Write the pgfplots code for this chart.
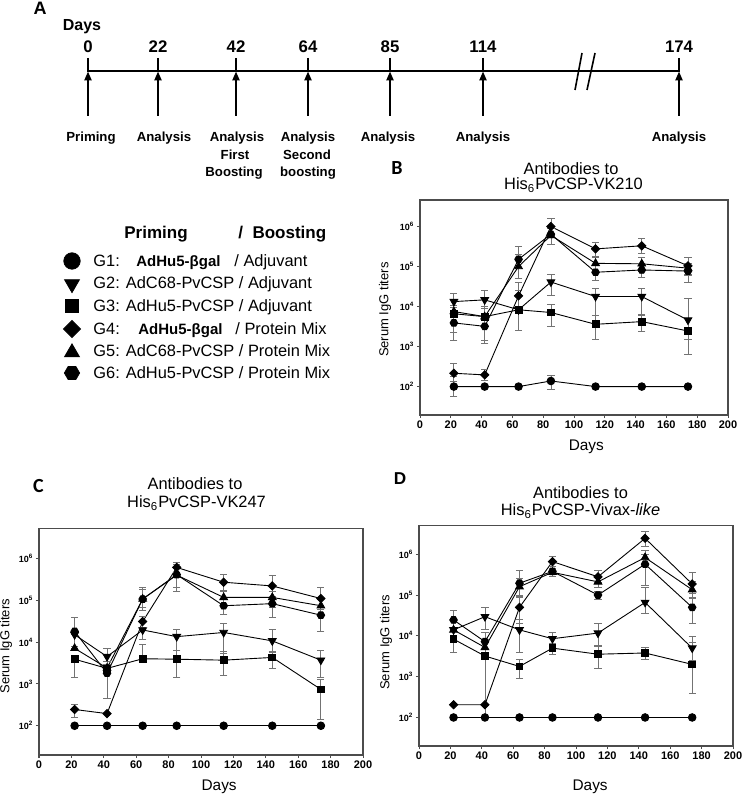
\documentclass[border=0pt]{standalone}
\usepackage{pgfplots}
\pgfplotsset{compat=1.18}
\usepackage{fontspec}
\setmainfont{Liberation Sans}
\newfontfamily\calfont{Carlito}
\usetikzlibrary{arrows.meta}

\pgfdeclareplotmark{hexagon}{%
 \pgfpathmoveto{\pgfpointpolar{0}{\pgfplotmarksize}}%
 \pgfpathlineto{\pgfpointpolar{60}{\pgfplotmarksize}}%
 \pgfpathlineto{\pgfpointpolar{120}{\pgfplotmarksize}}%
 \pgfpathlineto{\pgfpointpolar{180}{\pgfplotmarksize}}%
 \pgfpathlineto{\pgfpointpolar{240}{\pgfplotmarksize}}%
 \pgfpathlineto{\pgfpointpolar{300}{\pgfplotmarksize}}%
 \pgfpathclose
 \pgfusepathqfillstroke}

\pgfkeys{/pgf/number format/assume math mode=true}
\pgfplotsset{
 gOne/.style={mark=*, mark size=1.9pt, mark options={fill=black}},
 gTwo/.style={mark=triangle*, mark size=2.2pt, mark options={fill=black, rotate=180}},
 gThree/.style={mark=square*, mark size=1.7pt, mark options={fill=black}},
 gFour/.style={mark=square*, mark size=1.45pt, mark options={fill=black, rotate=45}},
 gFive/.style={mark=triangle*, mark size=2.2pt, mark options={fill=black}},
 gSix/.style={mark=hexagon, mark size=1.9pt, mark options={fill=black}},
 errs/.style={error bars/.cd, y dir=both, y explicit,
   error bar style={black!55, line width=0.4pt},
   error mark=-,
   error mark options={black!55, line width=0.4pt, mark size=1.8pt, rotate=90}},
 panel/.style={
  scale only axis, anchor=south west, clip=false,
  xmin=0, xmax=200,
  xtick={0,20,...,200}, ytick={100,1000,10000,100000,1000000},
  yticklabels={10\textsuperscript{2},10\textsuperscript{3},10\textsuperscript{4},10\textsuperscript{5},10\textsuperscript{6}},
  xminorticks=false, yminorticks=false,
  tick align=outside, tick pos=left, major tick length=1.6pt,
  every tick/.style={black!70, line width=0.5pt},
  axis line style={black!70, line width=0.6pt},
  xticklabel style={font=\bfseries\fontsize{5.5}{6}\selectfont, inner sep=1pt},
  yticklabel style={font=\bfseries\fontsize{4.5}{5}\selectfont, inner sep=1pt},
  xlabel={Days}, ylabel={Serum IgG titers},
  xlabel style={font=\fontsize{7.7}{8}\selectfont, anchor=center},
  ylabel style={font=\fontsize{6.5}{7}\selectfont, anchor=center},
  every axis plot/.append style={black, line width=0.45pt},
 },
}

\begin{document}
\begin{tikzpicture}
\useasboundingbox (0,0) rectangle (371pt,398pt);
% ---------- canvas: panel A, legend, titles ----------
\begin{axis}[at={(0,0)}, anchor=south west, scale only axis, width=371pt, height=398pt,
  xmin=0, xmax=742, ymin=0, ymax=796, y dir=reverse, hide axis, clip=false]
\addplot[line width=1pt] coordinates {(88,71) (679,71)};
\pgfplotsinvokeforeach{88,158,236,308,390,483,679}{
  \addplot[line width=0.9pt] coordinates {(#1,58) (#1,72)};
  \addplot[line width=0.9pt, -{Triangle[length=4.5pt,width=3.6pt]}] coordinates {(#1,116) (#1,71.5)};
}
\addplot[line width=0.8pt] coordinates {(582,53) (575,90)};
\addplot[line width=0.8pt] coordinates {(595,53) (587,90)};
\begin{scope}[every node/.style={anchor=base, inner sep=0pt, font=\bfseries\fontsize{8.4}{9}\selectfont}]
\node[font=\bfseries\fontsize{9}{10}\selectfont] at (axis cs:40,15) {A};
\node[font=\bfseries\fontsize{8}{9}\selectfont] at (axis cs:82,31) {Days};
\node at (axis cs:88,52.5) {0};
\node at (axis cs:158,52.5) {22};
\node at (axis cs:236,52.5) {42};
\node at (axis cs:308,52.5) {64};
\node at (axis cs:390,52.5) {85};
\node at (axis cs:483,52.5) {114};
\node at (axis cs:679,52.5) {174};
\end{scope}
\begin{scope}[every node/.style={anchor=base, inner sep=0pt, font=\bfseries\fontsize{6.6}{7}\selectfont}]
\node at (axis cs:91,141.5) {Priming};
\node at (axis cs:164,141.5) {Analysis};
\node at (axis cs:237,141.5) {Analysis};
\node at (axis cs:308,141.5) {Analysis};
\node at (axis cs:388,141.5) {Analysis};
\node at (axis cs:483,141.5) {Analysis};
\node at (axis cs:679,141.5) {Analysis};
\node at (axis cs:235,160) {First};
\node at (axis cs:234,176.5) {Boosting};
\node at (axis cs:307,160) {Second};
\node at (axis cs:308,176.5) {boosting};
\end{scope}
% legend
\node[anchor=base, inner sep=0pt, font=\bfseries\fontsize{8.5}{10}\selectfont] at (axis cs:156,239) {Priming};
\node[anchor=base west, font=\bfseries\fontsize{8.5}{10}\selectfont, inner sep=0pt] at (axis cs:238,239) {/\ \ Boosting};
\addplot[only marks, mark=*, mark size=4.1pt, mark options={fill=black}] coordinates {(72,261)};
\addplot[only marks, mark=triangle*, mark size=4.3pt, mark options={fill=black, rotate=180}] coordinates {(72,284)};
\addplot[only marks, mark=square*, mark size=3.4pt, mark options={fill=black}] coordinates {(72,306)};
\addplot[only marks, mark=square*, mark size=3.0pt, mark options={fill=black, rotate=45}] coordinates {(72,329)};
\addplot[only marks, mark=triangle*, mark size=4.3pt, mark options={fill=black}] coordinates {(72,352.5)};
\addplot[only marks, mark=hexagon, mark size=3.8pt, mark options={fill=black}] coordinates {(72,373)};
\begin{scope}[every node/.style={anchor=base west, inner sep=0pt, font=\fontsize{8.2}{9}\selectfont}]
\node at (axis cs:93,266.7) {G1:};
\node[font=\bfseries\fontsize{7.5}{8}\selectfont] at (axis cs:136,266.7) {AdHu5-βgal};
\node at (axis cs:234,266.7) {/ Adjuvant};
\node at (axis cs:93,288.5) {G2: AdC68-PvCSP / Adjuvant};
\node at (axis cs:93,311.7) {G3: AdHu5-PvCSP / Adjuvant};
\node at (axis cs:93,335) {G4:};
\node[font=\bfseries\fontsize{7.5}{8}\selectfont] at (axis cs:138,335) {AdHu5-βgal};
\node at (axis cs:235,335) {/ Protein Mix};
\node at (axis cs:93,357) {G5: AdC68-PvCSP / Protein Mix};
\node at (axis cs:93,379) {G6: AdHu5-PvCSP / Protein Mix};
\end{scope}
% titles and panel letters
\begin{scope}[every node/.style={anchor=base, inner sep=0pt, font=\fontsize{8.2}{9}\selectfont}]
\node at (axis cs:571,175) {Antibodies to};
\node at (axis cs:573.5,190) {His\textsubscript{6}PvCSP-VK210};
\node at (axis cs:195,489) {Antibodies to};
\node at (axis cs:196.5,508) {His\textsubscript{6}PvCSP-VK247};
\node at (axis cs:580.5,498) {Antibodies to};
\node at (axis cs:580.5,516) {His\textsubscript{6}PvCSP-Vivax-\textit{like}};
\node[font=\calfont\bfseries\fontsize{10}{11}\selectfont] at (axis cs:397,175) {B};
\node[font=\calfont\bfseries\fontsize{10}{11}\selectfont] at (axis cs:38.5,493) {C};
\node[font=\bfseries\fontsize{8.6}{10}\selectfont] at (axis cs:400,485) {D};
\end{scope}
\end{axis}

% ---------- panel B ----------
\begin{axis}[panel, ymode=log, at={(210pt,190.5pt)}, width=154pt, height=107.5pt, ymin=19.5, ymax=4.6e6,
  xlabel style={at={(axis description cs:0.54,0)}, yshift=-16pt},
  ylabel style={at={(axis description cs:-0.114,0.49)}}]
\addplot[gOne, errs] table[row sep=\\, x=x, y=y, y error plus=ep, y error minus=em] {x y ep em\\
22 100 80 44\\ 42 100 0 0\\ 64 100 0 0\\ 85 138 57 53\\ 114 100 0 0\\ 144 100 0 0\\ 174 100 0 0\\};
\addplot[gTwo, errs] table[row sep=\\, x=x, y=y, y error plus=ep, y error minus=em] {x y ep em\\
22 13300 7700 5300\\ 42 14700 10300 5700\\ 64 8300 0 0\\ 85 41000 21000 22000\\ 114 17800 11200 11800\\ 144 17800 11200 11800\\ 174 4600 11400 3100\\};
\addplot[gThree, errs] table[row sep=\\, x=x, y=y, y error plus=ep, y error minus=em] {x y ep em\\
22 6600 3900 4300\\ 42 5600 4400 4200\\ 64 8300 16700 5700\\ 85 7100 4300 3900\\ 114 3600 2400 2050\\ 144 4200 2000 1750\\ 174 2450 2500 1810\\};
\addplot[gFour, errs] table[row sep=\\, x=x, y=y, y error plus=ep, y error minus=em] {x y ep em\\
22 215 168 82\\ 42 196 79 56\\ 64 18500 21500 10500\\ 85 1000000 600000 400000\\ 114 276000 134000 96000\\ 144 330000 180000 120000\\ 174 104000 66000 42000\\};
\addplot[gFive, errs] table[row sep=\\, x=x, y=y, y error plus=ep, y error minus=em] {x y ep em\\
22 7500 2000 2000\\ 42 5600 0 0\\ 64 100000 100000 50000\\ 85 600000 300000 250000\\ 114 120000 50000 40000\\ 144 117000 50000 40000\\ 174 91000 30000 30000\\};
\addplot[gSix, errs] table[row sep=\\, x=x, y=y, y error plus=ep, y error minus=em] {x y ep em\\
22 3900 3100 2500\\ 42 3200 2800 2000\\ 64 152000 168000 102000\\ 85 640000 260000 290000\\ 114 72000 38000 27000\\ 144 82000 38000 27000\\ 174 77000 23000 37000\\};
\end{axis}

% ---------- panel C ----------
\begin{axis}[panel, ymode=log, at={(19.5pt,20.5pt)}, width=162pt, height=113.25pt, ymin=20, ymax=5.2e6,
  xlabel style={at={(axis description cs:0.556,0)}, yshift=-16pt},
  ylabel style={at={(axis description cs:-0.102,0.48)}}]
\addplot[gOne] table[row sep=\\, x=x, y=y] {x y\\
22 100\\ 42 100\\ 64 100\\ 85 100\\ 114 100\\ 144 100\\ 174 100\\};
\addplot[gTwo, errs] table[row sep=\\, x=x, y=y, y error plus=ep, y error minus=em] {x y ep em\\
22 15000 0 0\\ 42 4500 2700 1500\\ 64 19500 10000 8000\\ 85 13500 7000 7000\\ 114 17000 11000 11500\\ 144 10700 9000 5000\\ 174 3700 2500 2300\\};
\addplot[gThree, errs] table[row sep=\\, x=x, y=y, y error plus=ep, y error minus=em] {x y ep em\\
22 3900 0 2500\\ 42 2350 500 500\\ 64 4000 5000 0\\ 85 3900 2600 2500\\ 114 3700 2200 2100\\ 144 4300 1700 2000\\ 174 740 560 595\\};
\addplot[gFour, errs] table[row sep=\\, x=x, y=y, y error plus=ep, y error minus=em] {x y ep em\\
22 245 85 90\\ 42 195 0 0\\ 64 31000 10000 8000\\ 85 610000 190000 150000\\ 114 270000 140000 100000\\ 144 220000 180000 100000\\ 174 110000 90000 50000\\};
\addplot[gFive, errs] table[row sep=\\, x=x, y=y, y error plus=ep, y error minus=em] {x y ep em\\
22 7100 0 0\\ 42 2400 1000 500\\ 64 107000 80000 40000\\ 85 400000 200000 200000\\ 114 117000 50000 40000\\ 144 117000 50000 50000\\ 174 74000 30000 30000\\};
\addplot[gSix, errs] table[row sep=\\, x=x, y=y, y error plus=ep, y error minus=em] {x y ep em\\
22 18000 22000 10000\\ 42 1800 1600 1350\\ 64 107000 100000 50000\\ 85 410000 300000 250000\\ 114 74000 36000 28000\\ 144 83000 40000 45000\\ 174 44000 32000 26000\\};
\end{axis}

% ---------- panel D ----------
\begin{axis}[panel, ymode=log, at={(209.5pt,25pt)}, width=157pt, height=110.15pt, ymin=20, ymax=5e6,
  xlabel style={at={(axis description cs:0.545,0)}, yshift=-20.5pt},
  ylabel style={at={(axis description cs:-0.105,0.47)}}]
\addplot[gOne] table[row sep=\\, x=x, y=y] {x y\\
22 100\\ 42 100\\ 64 100\\ 85 100\\ 114 100\\ 144 100\\ 174 100\\};
\addplot[gTwo, errs] table[row sep=\\, x=x, y=y, y error plus=ep, y error minus=em] {x y ep em\\
22 14000 0 0\\ 42 29500 20000 15000\\ 64 14000 12000 10000\\ 85 8500 3500 2500\\ 114 11700 9000 6000\\ 144 66000 90000 30000\\ 174 5000 4600 2500\\};
\addplot[gThree, errs] table[row sep=\\, x=x, y=y, y error plus=ep, y error minus=em] {x y ep em\\
22 8300 5000 4300\\ 42 3200 9000 3100\\ 64 1780 900 880\\ 85 5000 1500 1500\\ 114 3550 2000 1950\\ 144 3800 1300 1200\\ 174 2000 5000 1600\\};
\addplot[gFour, errs] table[row sep=\\, x=x, y=y, y error plus=ep, y error minus=em] {x y ep em\\
22 205 0 0\\ 42 205 0 0\\ 64 50000 40000 30000\\ 85 660000 200000 150000\\ 114 280000 120000 80000\\ 144 2450000 1150000 900000\\ 174 187000 180000 80000\\};
\addplot[gFive, errs] table[row sep=\\, x=x, y=y, y error plus=ep, y error minus=em] {x y ep em\\
22 14000 0 0\\ 42 5200 3000 2000\\ 64 160000 100000 60000\\ 85 360000 80000 80000\\ 114 210000 80000 60000\\ 144 830000 400000 300000\\ 174 135000 80000 50000\\};
\addplot[gSix, errs] table[row sep=\\, x=x, y=y, y error plus=ep, y error minus=em] {x y ep em\\
22 24500 18500 10000\\ 42 7200 5000 4000\\ 64 195000 200000 100000\\ 85 380000 120000 100000\\ 114 100000 20000 20000\\ 144 570000 400000 400000\\ 174 50000 39000 30000\\};
\end{axis}
\end{tikzpicture}
\end{document}
